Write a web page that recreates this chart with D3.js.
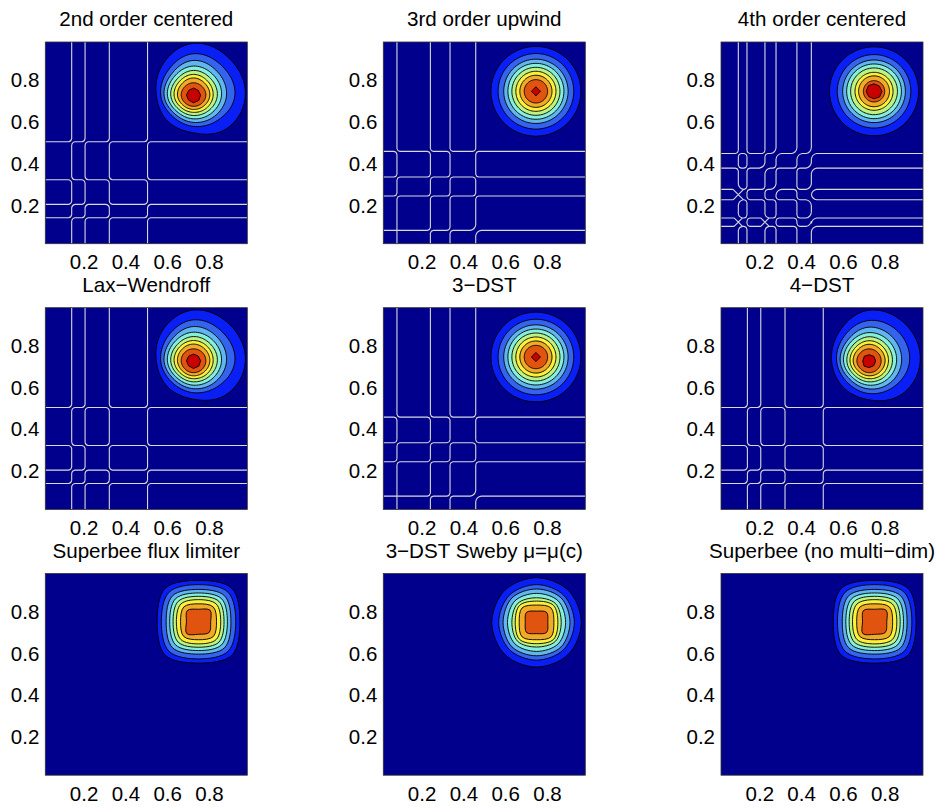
<!DOCTYPE html>
<html><head><meta charset="utf-8">
<script src="https://cdn.jsdelivr.net/npm/d3@7/dist/d3.min.js"></script>
<style>html,body{margin:0;background:#fff}svg{display:block}text{font-family:"Liberation Sans",Arial,sans-serif;fill:#000}</style>
</head><body><svg id="c" width="943" height="812"></svg>
<script>
const titles = ["2nd order centered","3rd order upwind","4th order centered","Lax\u2212Wendroff","3\u2212DST","4\u2212DST","Superbee flux limiter","3\u2212DST Sweby \u03BC=\u03BC(c)","Superbee (no multi\u2212dim)"];
const tickValues = [0.2,0.4,0.6,0.8];
const domainRange = [0.0167,0.9833];
const levelColors = ["#0a1ff5","#3464ee","#62b6f0","#84f0dc","#bef282","#faf03c","#f0aa28","#e0540f","#c80000"];
const background = "#00008c";

// contour radii in thousandths of an axis unit, counter-clockwise from east: E NE N NW W SW S SE
const rings2nd = [[248,245,248,208,178,176,181,226],[198,195,198,170,157,143,150,168],[158,160,166,146,141,127,131,143],[134,135,139,128,125,112,114,122],[114,114,118,110,109,98,98,104],[94,95,99,94,93,84,83,88],[78,78,82,78,77,70,69,72],[59,58,59,58,59,55,54,56],[34,32,34,32,34,34,37,36]];
const ringsUpwind = [[215,215,215,215,215,215,215,215],[181,181,181,181,181,181,181,181],[154,154,154,154,154,154,154,154],[134,134,134,134,134,134,134,134],[115,115,115,115,115,115,115,115],[96,96,96,96,96,96,96,96],[77,77,77,77,77,77,77,77],[56,56,56,56,56,56,56,56],[22,15,22,15,22,15,22,15]];
const rings4th = [[213,213,213,213,213,213,213,213],[176,176,176,176,176,176,176,176],[150,150,150,150,150,150,150,150],[131,131,131,131,131,131,131,131],[112,112,112,112,112,112,112,112],[91,91,91,91,91,91,91,91],[74,74,74,74,74,74,74,74],[51,51,51,51,51,51,51,51],[38,36,36,38,38,36,36,38]];
const ringsLW = [[248,245,243,208,178,176,184,226],[198,195,196,170,157,146,153,170],[158,160,164,146,141,129,134,145],[134,135,137,128,125,114,117,124],[114,114,116,110,109,100,101,106],[94,95,97,94,93,86,86,90],[78,78,80,78,77,72,72,74],[59,58,57,58,59,57,57,58],[34,32,32,32,34,34,37,36]];
const rings3dst = ringsUpwind;
const rings4dst = [[245,248,243,200,179,176,186,224],[194,198,194,168,155,146,156,172],[156,160,162,143,138,127,134,146],[132,135,136,126,122,112,116,124],[112,114,116,108,106,98,100,106],[93,95,97,92,91,84,85,90],[77,78,80,76,76,70,71,74],[58,58,58,57,58,55,56,57],[32,32,30,32,30,34,32,32]];
const ringsSuperbee = [[198,226,198,226,198,226,198,226],[178,200,178,200,178,200,178,200],[155,176,155,176,155,176,155,176],[138,156,138,156,138,156,138,156],[122,138,122,138,122,138,122,138],[106,120,106,120,106,120,106,120],[86,100,86,100,86,100,86,100],[58,78,60,76,58,80,60,72]];
const ringsSweby = [[214,216,214,216,214,216,214,216],[181,184,181,184,181,184,181,184],[160,166,160,166,160,166,160,166],[139,146,139,146,139,146,139,146],[118,128,118,128,118,128,118,128],[102,115,102,115,102,115,102,115],[83,98,83,98,83,98,83,98],[54,68,54,68,54,68,54,68]];
const ringsNoMulti = ringsSuperbee;
const panelRings = [rings2nd,ringsUpwind,rings4th,ringsLW,rings3dst,rings4dst,ringsSuperbee,ringsSweby,ringsNoMulti];
const centersX = [.726,.747,.749,.726,.747,.725,.750,.750,.752];
const centersY = [.729,.747,.747,.729,.747,.728,.752,.749,.752];

// zero-level grid lines; one letter per crossing says how the lines reconnect there
const grid2nd = [.143,.207,.323,.506];
const gridUpwind = [.082,.242,.336,.459];
const grid4th = [.0996,.141,.227,.280,.380,.449];
const rows2nd = [.505,.323,.205,.141];
const rowsUpwind = [.459,.336,.245,.0805];
const rows4th = [.449,.379,.277,.227,.140,.0996];
const links2nd = ["nnnn","pppp","nnpn","nnnn"];
const linksUpwind = ["pppn","nnnp","nnnn","+nnN"];
const links4th = ["npnNNN","pnNnnN","TnnNpN","BppppP","TnTnpN","BpBppN"];
const linksLW = ["nnpn","ppnp","nnpn","nnnn"];
const panelGridX = [grid2nd,gridUpwind,grid4th,grid2nd,gridUpwind,grid2nd,[],[],[]];
const panelGridY = [rows2nd,rowsUpwind,rows4th,rows2nd,rowsUpwind,rows2nd,[],[],[]];
const panelLinks = [links2nd,linksUpwind,links4th,linksLW,linksUpwind,linksLW,[],[],[]];
const smallChamfers = [.015,.014,.014,.015,.014,.015,0,0,0];
const largeChamfer = .026;

const colLeft = [45.3,383.3,721];
const rowTop = [42,307.7,573.5];
const panelW = 202, panelH = 201.7;

// smooth periodic radius through the eight read values
function ringRadius(radii,t){
  const n=radii.length, i=Math.floor(t)%n, f=t-Math.floor(t);
  const a=radii[(i+n-1)%n],b=radii[i],c=radii[(i+1)%n],d=radii[(i+2)%n];
  return 0.5*(2*b+(c-a)*f+(2*a-5*b+4*c-d)*f*f+(3*b-a-3*c+d)*f*f*f);
}

const svg = d3.select("#c");
titles.forEach((title,i)=>{
  const x0 = colLeft[i%3], y0 = rowTop[Math.floor(i/3)];
  const x = d3.scaleLinear().domain(domainRange).range([0,panelW]);
  const y = d3.scaleLinear().domain(domainRange).range([panelH,0]);
  const g = svg.append("g").attr("transform",`translate(${x0},${y0})`);
  const cid = "clip"+i;
  g.append("clipPath").attr("id",cid).append("rect").attr("width",panelW).attr("height",panelH);
  g.append("rect").attr("width",panelW).attr("height",panelH).attr("fill",background);
  const plot = g.append("g").attr("clip-path",`url(#${cid})`);

  panelRings[i].forEach((radii,k)=>{
    const inner = k===8, square = i>=6;
    const count = (inner||square) ? 8 : 96;
    const pts = d3.range(count).map(s=>{
      const t = s*8/count, r = (inner||square) ? radii[s] : ringRadius(radii,t), th = t*Math.PI/4;
      return [x(centersX[i]+r/1000*Math.cos(th)), y(centersY[i]+r/1000*Math.sin(th))];
    });
    const curve = square ? d3.curveCatmullRomClosed.alpha(0.5) : d3.curveLinearClosed;
    plot.append("path").attr("d",d3.line().curve(curve)(pts))
      .attr("fill",levelColors[k]).attr("stroke","#000").attr("stroke-width",0.9);
  });

  const gx = panelGridX[i], gy = panelGridY[i], links = panelLinks[i];
  if (gx.length){
    const cOf=(ri,ci)=>{
      const l=links[ri][ci];
      if(l==="T") return (gy[ri]-gy[ri+1])/2;
      if(l==="B") return (gy[ri-1]-gy[ri])/2;
      if(l==="+") return 0.002;
      return l===l.toUpperCase() ? largeChamfer : smallChamfers[i];
    };
    const p = d3.path();
    const seg=(a,b,d,e)=>{p.moveTo(x(a),y(b));p.lineTo(x(d),y(e));};
    const bend=(a,b,d,e,cx,cy)=>{
      const mx=(a+d)/2,my=(b+e)/2;
      p.moveTo(x(a),y(b));
      p.quadraticCurveTo(x(mx+(cx-mx)*0.7),y(my+(cy-my)*0.7),x(d),y(e));
    };
    const [lo,hi] = domainRange;
    gx.forEach((vx,ci)=>{
      seg(vx,hi,vx,gy[0]+cOf(0,ci));
      gy.forEach((vy,ri)=>{ if(ri<gy.length-1) seg(vx,vy-cOf(ri,ci),vx,gy[ri+1]+cOf(ri+1,ci)); });
      seg(vx,gy[gy.length-1]-cOf(gy.length-1,ci),vx,lo);
    });
    gy.forEach((vy,ri)=>{
      seg(lo,vy,gx[0]-cOf(ri,0),vy);
      gx.forEach((vx,ci)=>{ if(ci<gx.length-1) seg(vx+cOf(ri,ci),vy,gx[ci+1]-cOf(ri,ci+1),vy); });
      seg(gx[gx.length-1]+cOf(ri,gx.length-1),vy,hi,vy);
      gx.forEach((vx,ci)=>{
        const l=links[ri][ci], c=cOf(ri,ci);
        if(l==="T"){ seg(vx-c,vy,vx,vy-c); seg(vx+c,vy,vx,vy-c); bend(vx,vy+c,vx+c,vy,vx,vy); }
        else if(l==="B"){ seg(vx-c,vy,vx,vy+c); seg(vx+c,vy,vx,vy+c); bend(vx,vy-c,vx+c,vy,vx,vy); }
        else if(l.toLowerCase()==="n"||l==="+"){ bend(vx,vy+c,vx-c,vy,vx,vy); bend(vx+c,vy,vx,vy-c,vx,vy); }
        else { bend(vx,vy+c,vx+c,vy,vx,vy); bend(vx-c,vy,vx,vy-c,vx,vy); }
      });
    });
    plot.append("path").attr("d",p.toString()).attr("fill","none").attr("stroke","#dadada").attr("stroke-width",1.1);
  }

  g.append("rect").attr("width",panelW).attr("height",panelH).attr("fill","none").attr("stroke","#333").attr("stroke-width",0.8);

  const ax = d3.axisBottom(x).tickValues(tickValues).tickSize(0).tickPadding(11).tickFormat(d3.format(".1f"));
  const ay = d3.axisLeft(y).tickValues(tickValues).tickSize(0).tickPadding(6).tickFormat(d3.format(".1f"));
  const gax = g.append("g").attr("transform",`translate(0,${panelH})`).call(ax);
  const gay = g.append("g").call(ay);
  [gax,gay].forEach(a=>{a.select(".domain").remove();a.selectAll("text").attr("font-size",20.5).style("font-family",'"Liberation Sans"');});

  g.append("text").attr("x",panelW/2).attr("y",-16).attr("text-anchor","middle").attr("font-size",20.6).text(title);
});
</script></body></html>
